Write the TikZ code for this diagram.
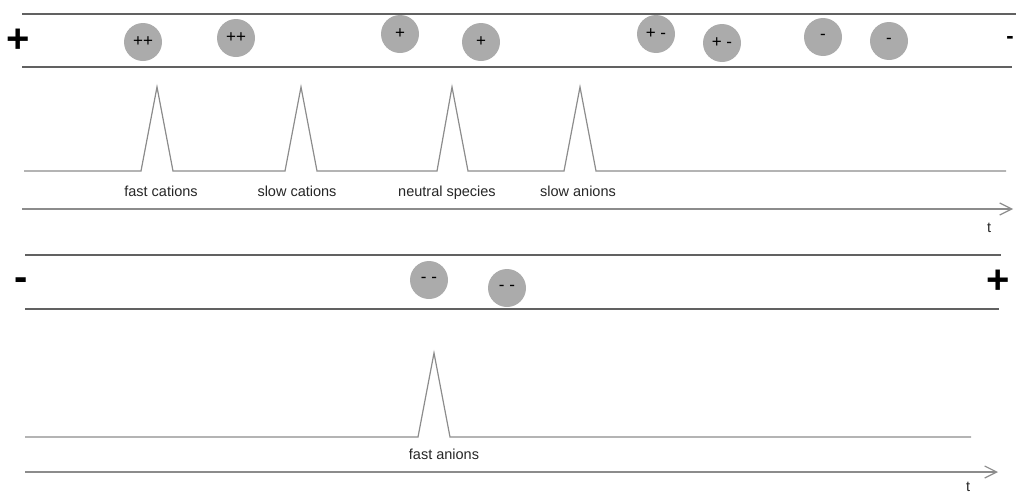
\documentclass[tikz,border=0pt]{standalone}
\usepackage{fontspec}
\setmainfont{Liberation Sans}
\usetikzlibrary{arrows.meta}
\begin{document}
\begin{tikzpicture}[x=1pt,y=-1pt,
 rail/.style={draw=black!62, line width=1.6pt},
 trace/.style={draw=black!45, line width=1.2pt, line join=miter},
 axis/.style={draw=black!45, line width=1.2pt, -{Straight Barb[length=12pt,width=12pt,line width=1.2pt]}},
 ion/.style={circle, fill=black!33, minimum size=38pt, inner sep=0pt, font=\fontsize{17}{17}\selectfont},
 lbl/.style={font=\fontsize{14.5}{14.5}\selectfont, text=black!85, inner sep=0pt, anchor=base},
 pole/.style={font=\fontsize{40}{40}\selectfont\bfseries, inner sep=0pt}]
\useasboundingbox (0,0) rectangle (1016,493);

% ---------- upper panel ----------
\coordinate (r1a) at (22,14);  \coordinate (r1b) at (1016,14);
\coordinate (r2a) at (22,67);  \coordinate (r2b) at (1012,67);
\draw[rail] (r1a) -- (r1b);
\draw[rail] (r2a) -- (r2b);
\node[pole] (pL1) at (18,41) {+};
\node[pole, font=\fontsize{22}{22}\selectfont\bfseries] (pR1) at (1010,40) {-};

\node[ion] (i1) at (143,42) {++};
\node[ion] (i2) at (236,38) {++};
\node[ion] (i3) at (400,34) {+};
\node[ion] (i4) at (481,42) {+};
\node[ion] (i5) at (656,34) {+ -};
\node[ion] (i6) at (722,43) {+ -};
\node[ion] (i7) at (823,37) {-};
\node[ion] (i8) at (889,41) {-};

\coordinate (b1s) at (24,171);
\coordinate (b1e) at (1006,171);
\draw[trace] (b1s) -- (141,171) -- (157,87) -- (173,171)
  -- (285,171) -- (301,87) -- (317,171)
  -- (437,171) -- (452,87) -- (468,171)
  -- (564,171) -- (580,87) -- (596,171) -- (b1e);

\node[lbl] (l1) at (161,196) {fast cations};
\node[lbl] (l2) at (297,196) {slow cations};
\node[lbl] (l3) at (447,196) {neutral species};
\node[lbl] (l4) at (578,196) {slow anions};

\coordinate (a1s) at (22,209);
\coordinate (a1e) at (1013,209);
\draw[axis] (a1s) -- (a1e);
\node[lbl] (t1) at (989,232) {t};

% ---------- lower panel ----------
\coordinate (r3a) at (25,255);  \coordinate (r3b) at (1001,255);
\coordinate (r4a) at (25,309);  \coordinate (r4b) at (999,309);
\draw[rail] (r3a) -- (r3b);
\draw[rail] (r4a) -- (r4b);
\node[pole] (pL2) at (21,284) {-};
\node[pole] (pR2) at (998,282) {+};

\node[ion] (j1) at (429,280) {- -};
\node[ion] (j2) at (507,288) {- -};

\coordinate (b2s) at (25,437);
\coordinate (b2e) at (971,437);
\draw[trace] (b2s) -- (418,437) -- (434,353) -- (450,437) -- (b2e);

\node[lbl] (l5) at (444,459) {fast anions};

\coordinate (a2s) at (25,472);
\coordinate (a2e) at (998,472);
\draw[axis] (a2s) -- (a2e);
\node[lbl] (t2) at (968,491) {t};
\end{tikzpicture}
\end{document}
